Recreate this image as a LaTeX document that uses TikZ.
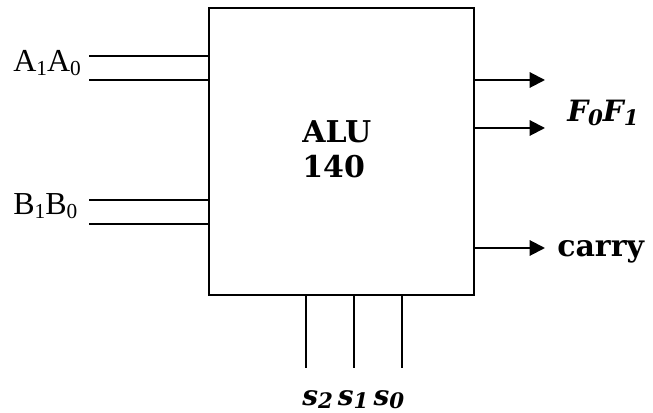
\documentclass[tikz,border=0pt]{standalone}
\usepackage{fontspec}
\setmainfont{Liberation Serif}
\newfontfamily\bkfont{DejaVu Serif}
\usetikzlibrary{arrows.meta}
\newcommand\mysub[1]{\raisebox{-0.12em}{\fontsize{16}{16}\selectfont #1}}
\newcommand\bsub[1]{\raisebox{-0.12em}{\fontsize{16}{16}\selectfont #1}}
\begin{document}
\begin{tikzpicture}[x=0.75pt,y=-0.75pt,
  wire/.style={line width=1.5pt},
  outarrow/.style={line width=1.5pt,-{Triangle[length=11.5pt,width=11.5pt]}},
  lbl/.style={anchor=base west,inner sep=0pt,font=\fontsize{24}{28}\selectfont},
  blbl/.style={anchor=base west,inner sep=0pt,font=\bkfont\bfseries\fontsize{22.5}{26}\selectfont},
  bilbl/.style={anchor=base west,inner sep=0pt,font=\bkfont\bfseries\itshape\fontsize{22}{26}\selectfont}]
\useasboundingbox (0,0) rectangle (653,413);
\node[draw,line width=1.5pt,minimum width=198.75pt,minimum height=215.25pt,inner sep=0pt] (alu) at (341.5,151.5) {};
\node[blbl] (t1) at (302,143) {ALU};
\node[blbl] (t2) at (302,178) {140};
% inputs
\node[lbl] (alab) at (13,72) {A\mysub{1}A\mysub{0}};
\node[lbl] (blab) at (13,215) {B\mysub{1}B\mysub{0}};
\coordinate (a1) at (89,56);
\coordinate (a0) at (89,80);
\coordinate (b1) at (89,200);
\coordinate (b0) at (89,224);
\foreach \c in {a1,a0,b1,b0} \draw[wire] (\c) -- (\c -| alu.west);
% outputs
\coordinate (f0) at (545,80);
\coordinate (f1) at (545,128);
\coordinate (cy) at (545,248);
\foreach \c in {f0,f1,cy} \draw[outarrow] (\c -| alu.east) -- (\c);
\node[bilbl] (flab) at (567,122) {F\bsub{0}F\bsub{1}};
\node[blbl] (clab) at (557,257) {carry};
% selects
\coordinate (s2) at (306,368);
\coordinate (s1) at (354,368);
\coordinate (s0) at (402,368);
\foreach \c in {s2,s1,s0} \draw[wire] (\c |- alu.south) -- (\c);
\node[bilbl,font=\bkfont\bfseries\itshape\fontsize{21}{24}\selectfont] (slab) at (302,405) {s\bsub{2}\hspace{0.18em}s\bsub{1}\hspace{0.18em}s\bsub{0}};
\end{tikzpicture}
\end{document}
